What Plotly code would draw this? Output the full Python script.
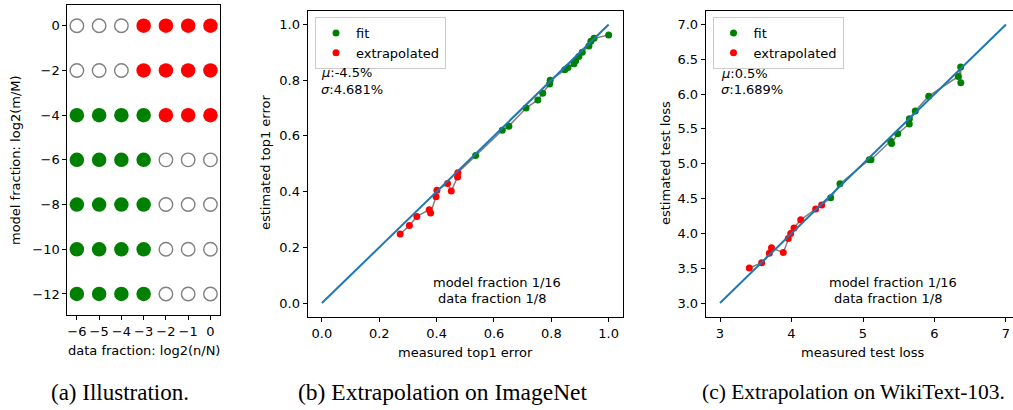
import plotly.graph_objects as go

W, H = 1013, 410

# ---------------- panel (a) data ----------------
data_frac = [-6, -5, -4, -3, -2, -1, 0]
model_frac = [0, -2, -4, -6, -8, -10, -12]
# f = fit, e = extrapolated, o = unused
cell_status = [
    "oooeeee",   # m = 0
    "oooeeee",   # m = -2
    "ffffeee",   # m = -4
    "ffffooo",   # m = -6
    "ffffooo",   # m = -8
    "ffffooo",   # m = -10
    "ffffooo",   # m = -12
]

# ---------------- panel (b) data ----------------
b_ext_meas = [0.273, 0.305, 0.331, 0.374, 0.379, 0.398, 0.401, 0.438, 0.451, 0.473, 0.474]
b_ext_est = [0.248, 0.278, 0.311, 0.335, 0.323, 0.382, 0.405, 0.429, 0.402, 0.452, 0.468]
b_fit_meas = [0.536, 0.629, 0.652, 0.712, 0.753, 0.770, 0.794, 0.796, 0.847, 0.858, 0.879,
              0.885, 0.896, 0.908, 0.931, 0.938, 0.949, 1.0]
b_fit_est = [0.530, 0.620, 0.635, 0.700, 0.729, 0.753, 0.786, 0.800, 0.837, 0.845, 0.859,
             0.870, 0.885, 0.900, 0.923, 0.940, 0.950, 0.962]
b_mu_text = "<i>μ</i>:-4.5%"
b_sigma_text = "<i>σ</i>:4.681%"

# ---------------- panel (c) data ----------------
c_ext_meas = [3.41, 3.583, 3.69, 3.72, 3.885, 3.955, 3.989, 4.035, 4.129, 4.338, 4.422]
c_ext_est = [3.504, 3.579, 3.716, 3.795, 3.725, 3.928, 3.998, 4.078, 4.196, 4.35, 4.408]
c_fit_meas = [4.548, 4.678, 5.088, 5.112, 5.387, 5.40, 5.485, 5.647, 5.649, 5.731, 5.919,
              6.333, 6.366, 6.368]
c_fit_est = [4.511, 4.713, 5.058, 5.058, 5.326, 5.29, 5.43, 5.571, 5.646, 5.758, 5.97,
             6.253, 6.39, 6.164]
c_mu_text = "<i>μ</i>:0.5%"
c_sigma_text = "<i>σ</i>:1.689%"

frac_text_1 = "model fraction 1/16"
frac_text_2 = "data fraction 1/8"

GREEN = "#008000"
RED = "#ff0000"
BLUE = "#1f77b4"
GRAY = "#808080"
FONT = "DejaVu Sans"


def px_x(p):
    return min(max(p / W, 0.0), 1.0)


def px_y(p):
    return min(max(1 - p / H, 0.0), 1.0)


fig = go.Figure()

# ---- panel (a) ----
pts = {"f": ([], []), "e": ([], []), "o": ([], [])}
for mi, row in enumerate(cell_status):
    for ni, s in enumerate(row):
        pts[s][0].append(data_frac[ni])
        pts[s][1].append(model_frac[mi])

fig.add_trace(go.Scatter(x=pts["o"][0], y=pts["o"][1], mode="markers", xaxis="x", yaxis="y",
                         marker=dict(symbol="circle-open", size=13.5, color=GRAY, line=dict(width=1.4)),
                         showlegend=False))
fig.add_trace(go.Scatter(x=pts["f"][0], y=pts["f"][1], mode="markers", xaxis="x", yaxis="y",
                         marker=dict(symbol="circle", size=14.5, color=GREEN, line=dict(width=0)),
                         showlegend=False))
fig.add_trace(go.Scatter(x=pts["e"][0], y=pts["e"][1], mode="markers", xaxis="x", yaxis="y",
                         marker=dict(symbol="circle", size=14.5, color=RED, line=dict(width=0)),
                         showlegend=False))


def add_panel(xa, ya, ext_x, ext_y, fit_x, fit_y, diag, legend):
    allp = sorted(zip(ext_x + fit_x, ext_y + fit_y), key=lambda t: t[0])
    fig.add_trace(go.Scatter(x=[p[0] for p in allp], y=[p[1] for p in allp], mode="lines",
                             xaxis=xa, yaxis=ya, line=dict(color=GRAY, width=1.5), showlegend=False,
                             hoverinfo="skip"))
    fig.add_trace(go.Scatter(x=fit_x, y=fit_y, mode="markers", name="fit", xaxis=xa, yaxis=ya,
                             marker=dict(color=GREEN, size=7), legend=legend))
    fig.add_trace(go.Scatter(x=ext_x, y=ext_y, mode="markers", name="extrapolated", xaxis=xa, yaxis=ya,
                             marker=dict(color=RED, size=7), legend=legend))
    fig.add_trace(go.Scatter(x=diag, y=diag, mode="lines", xaxis=xa, yaxis=ya,
                             line=dict(color=BLUE, width=2), showlegend=False))


add_panel("x2", "y2", b_ext_meas, b_ext_est, b_fit_meas, b_fit_est, [0, 1], "legend")
add_panel("x3", "y3", c_ext_meas, c_ext_est, c_fit_meas, c_fit_est, [3, 7], "legend2")

axis_common = dict(showline=True, linecolor="black", linewidth=1, mirror=True, ticks="outside",
                   ticklen=4, tickcolor="black", tickwidth=1, showgrid=False, zeroline=False,
                   tickfont=dict(family=FONT, size=13, color="black"))
axis_c_y = dict(axis_common, mirror=False)

minus = lambda v: str(v).replace("-", "\u2212")

fig.update_layout(
    width=W, height=H, margin=dict(l=0, r=0, t=0, b=0),
    paper_bgcolor="white", plot_bgcolor="white",
    font=dict(family=FONT, size=13, color="black"),
    xaxis=dict(domain=[px_x(67.3), px_x(220)], range=[-6.43, 0.43], anchor="y",
               tickvals=data_frac, ticktext=[minus(v) for v in data_frac], **axis_common),
    yaxis=dict(domain=[px_y(315), px_y(4.7)], range=[-12.94, 0.94], anchor="x",
               tickvals=model_frac, ticktext=[minus(v) for v in model_frac], **axis_common),
    xaxis2=dict(domain=[px_x(307.6), px_x(623)], range=[-0.05, 1.05], anchor="y2",
                tickvals=[0, 0.2, 0.4, 0.6, 0.8, 1.0], ticktext=["0.0", "0.2", "0.4", "0.6", "0.8", "1.0"],
                **axis_common),
    yaxis2=dict(domain=[px_y(317), px_y(10.5)], range=[-0.05, 1.05], anchor="x2",
                tickvals=[0, 0.2, 0.4, 0.6, 0.8, 1.0], ticktext=["0.0", "0.2", "0.4", "0.6", "0.8", "1.0"],
                **axis_common),
    xaxis3=dict(domain=[px_x(705.7), 1.0], range=[2.8, 7.098], anchor="y3",
                tickvals=[3, 4, 5, 6, 7], **axis_common),
    yaxis3=dict(domain=[px_y(317), px_y(10.5)], range=[2.8, 7.2], anchor="x3",
                tickvals=[3.0, 3.5, 4.0, 4.5, 5.0, 5.5, 6.0, 6.5, 7.0],
                ticktext=["3.0", "3.5", "4.0", "4.5", "5.0", "5.5", "6.0", "6.5", "7.0"], **axis_c_y),
    legend=dict(x=px_x(315), y=px_y(17), xanchor="left", yanchor="top", bgcolor="white",
                bordercolor="#cccccc", borderwidth=1, font=dict(family=FONT, size=13),
                itemwidth=30, tracegroupgap=0),
    legend2=dict(x=px_x(712.5), y=px_y(17), xanchor="left", yanchor="top", bgcolor="white",
                 bordercolor="#cccccc", borderwidth=1, font=dict(family=FONT, size=13),
                 itemwidth=30, tracegroupgap=0),
)

ann = []


def text(x, y, t, xref="paper", yref="paper", xanchor="center", yanchor="middle", size=13,
         family=FONT, angle=0):
    ann.append(dict(x=x, y=y, xref=xref, yref=yref, text=t, showarrow=False, xanchor=xanchor,
                    yanchor=yanchor, textangle=angle, font=dict(family=family, size=size, color="black")))


# axis titles
text(px_x(144), px_y(350), "data fraction: log2(n/N)")
text(px_x(15), px_y(160), "model fraction: log2(m/M)", angle=-90)
text(px_x(465), px_y(352), "measured top1 error")
text(px_x(265), px_y(163), "estimated top1 error", angle=-90)
text(px_x(863), px_y(352), "measured test loss")
text(px_x(665), px_y(163), "estimated test loss", angle=-90)

# mu / sigma
text(-0.01, 0.826, b_mu_text, xref="x2", yref="y2", xanchor="left")
text(-0.01, 0.765, b_sigma_text, xref="x2", yref="y2", xanchor="left")
text(2.985, 6.30, c_mu_text, xref="x3", yref="y3", xanchor="left")
text(2.985, 6.06, c_sigma_text, xref="x3", yref="y3", xanchor="left")

# fraction notes
text(0.382, 0.073, frac_text_1, xref="x2", yref="y2", xanchor="left")
text(0.397, 0.017, frac_text_2, xref="x2", yref="y2", xanchor="left")
text(4.497, 3.29, frac_text_1, xref="x3", yref="y3", xanchor="left")
text(4.566, 3.07, frac_text_2, xref="x3", yref="y3", xanchor="left")

# captions
CAP = "Liberation Serif"
text(px_x(120), px_y(392), "(a) Illustration.", size=23, family=CAP)
text(px_x(443), px_y(392), "(b) Extrapolation on ImageNet", size=23.5, family=CAP)
text(px_x(853), px_y(392), "(c) Extrapolation on WikiText-103.", size=21.5, family=CAP)

fig.update_layout(annotations=ann)

fig.write_html("out.html", config={"displayModeBar": False},
               post_script="document.body.style.margin='0';")
